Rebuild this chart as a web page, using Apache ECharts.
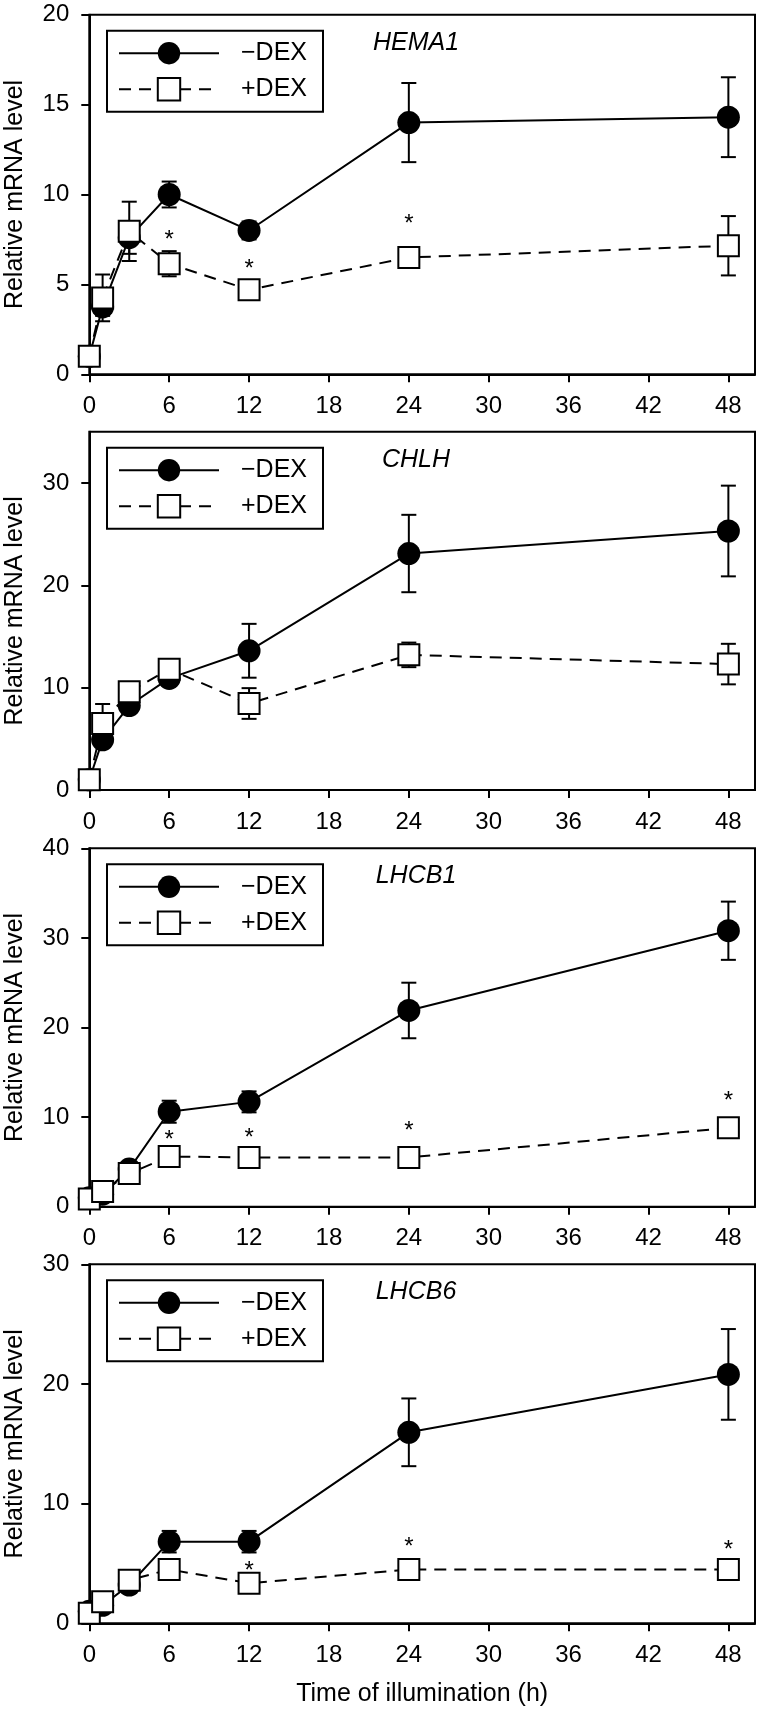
<!DOCTYPE html>
<html><head><meta charset="utf-8">
<script src="https://cdn.jsdelivr.net/npm/echarts@6/dist/echarts.min.js"></script>
<style>html,body{margin:0;padding:0;background:#fff}#c{width:760px;height:1714px}</style>
</head><body><div id="c"></div>
<script>
// ---- data ----
const times = [0, 1, 3, 6, 12, 24, 48];
const xTickValues = [0, 6, 12, 18, 24, 30, 36, 42, 48];
const seriesNames = ['\u2212DEX', '+DEX'];
const genes = ['HEMA1', 'CHLH', 'LHCB1', 'LHCB6'];

const hema1Minus    = [1.0, 3.75, 7.6, 10.0, 8.0, 14.0, 14.3];
const hema1MinusErr = [0.1, 0.5, 0.9, 0.72, 0.5, 2.2, 2.22];
const hema1Plus     = [1.0, 4.25, 7.95, 6.15, 4.7, 6.5, 7.15];
const hema1PlusErr  = [0.1, 1.3, 1.65, 0.7, 0.3, 0.3, 1.65];
const hema1StarX    = [6, 12, 24];
const hema1StarY    = [7.7, 6.1, 8.6];

const chlhMinus     = [1.0, 4.9, 8.25, 10.9, 13.6, 23.1, 25.3];
const chlhMinusErr  = [0.2, 0.5, 0.4, 0.5, 2.63, 3.78, 4.43];
const chlhPlus      = [1.0, 6.5, 9.6, 11.8, 8.45, 13.2, 12.3];
const chlhPlusErr   = [0.2, 1.9, 0.5, 0.9, 1.5, 1.2, 1.98];
const chlhStarX     = [];
const chlhStarY     = [];

const lhcb1Minus    = [1.0, 1.4, 4.2, 10.6, 11.7, 21.9, 30.8];
const lhcb1MinusErr = [0.1, 0.3, 0.4, 1.23, 1.17, 3.1, 3.25];
const lhcb1Plus     = [0.85, 1.7, 3.7, 5.6, 5.5, 5.5, 8.8];
const lhcb1PlusErr  = [0.1, 0.3, 0.4, 0.4, 0.4, 0.4, 0.5];
const lhcb1StarX    = [6, 12, 24, 48];
const lhcb1StarY    = [8.0, 8.2, 9.0, 12.35];

const lhcb6Minus    = [1.0, 1.5, 3.2, 6.82, 6.82, 15.96, 20.8];
const lhcb6MinusErr = [0.1, 0.3, 0.3, 0.9, 0.9, 2.83, 3.79];
const lhcb6Plus     = [0.85, 1.8, 3.6, 4.5, 3.35, 4.5, 4.5];
const lhcb6PlusErr  = [0.1, 0.2, 0.3, 0.4, 0.3, 0.3, 0.3];
const lhcb6StarX    = [12, 24, 48];
const lhcb6StarY    = [4.73, 6.73, 6.54];

const yMaxes = [20, 35, 40, 30];
const yTicks1 = [0, 5, 10, 15, 20];
const yTicks2 = [0, 10, 20, 30];
const yTicks3 = [0, 10, 20, 30, 40];
const yTicks4 = [0, 10, 20, 30];

// ---- layout ----
const FONT = '"Liberation Sans", Arial, sans-serif';
const tops = [14.7, 431.7, 848.3, 1264.3];
const heights = [359.6, 358.3, 358.4, 359];
const panels = [
  {minus: hema1Minus, minusErr: hema1MinusErr, plus: hema1Plus, plusErr: hema1PlusErr, sx: hema1StarX, sy: hema1StarY, ticks: yTicks1},
  {minus: chlhMinus, minusErr: chlhMinusErr, plus: chlhPlus, plusErr: chlhPlusErr, sx: chlhStarX, sy: chlhStarY, ticks: yTicks2},
  {minus: lhcb1Minus, minusErr: lhcb1MinusErr, plus: lhcb1Plus, plusErr: lhcb1PlusErr, sx: lhcb1StarX, sy: lhcb1StarY, ticks: yTicks3},
  {minus: lhcb6Minus, minusErr: lhcb6MinusErr, plus: lhcb6Plus, plusErr: lhcb6PlusErr, sx: lhcb6StarX, sy: lhcb6StarY, ticks: yTicks4}
];

function errRender(params, api) {
  const x = api.value(0), y = api.value(1), e = api.value(2);
  const p1 = api.coord([x, y + e]), p2 = api.coord([x, y - e]);
  const w = 7.5;
  const st = {stroke: '#000', lineWidth: 2};
  return {type: 'group', children: [
    {type: 'line', shape: {x1: p1[0], y1: p1[1], x2: p2[0], y2: p2[1]}, style: st},
    {type: 'line', shape: {x1: p1[0] - w, y1: p1[1], x2: p1[0] + w, y2: p1[1]}, style: st},
    {type: 'line', shape: {x1: p2[0] - w, y1: p2[1], x2: p2[0] + w, y2: p2[1]}, style: st}
  ]};
}
function starRender(params, api) {
  const p = api.coord([api.value(0), api.value(1)]);
  return {type: 'text', x: p[0], y: p[1] + 5, style: {text: '*', font: '24px ' + FONT, textAlign: 'center', textVerticalAlign: 'middle', fill: '#000'}};
}

const grid = [], xAxis = [], yAxis = [], series = [], legend = [], graphic = [];
panels.forEach((p, i) => {
  grid.push({left: 89.3, right: 5, top: tops[i], height: heights[i], show: true, borderColor: '#000', borderWidth: 2,
    backgroundColor: 'transparent', containLabel: false, outerBoundsMode: 'none'});
  xAxis.push({
    type: 'value', gridIndex: i, min: 0, max: 50,
    axisLine: {onZero: false, lineStyle: {color: '#000', width: 2}},
    axisTick: {show: true, length: 8, lineStyle: {color: '#000', width: 2}, customValues: xTickValues},
    axisLabel: {customValues: xTickValues, color: '#000', fontSize: 24, fontFamily: FONT, margin: 20},
    splitLine: {show: false},
    name: i === 3 ? 'Time of illumination (h)' : '',
    nameLocation: 'middle', nameGap: 58,
    nameTextStyle: {color: '#000', fontSize: 25, fontFamily: FONT}
  });
  yAxis.push({
    type: 'value', gridIndex: i, min: 0, max: yMaxes[i],
    axisLine: {onZero: false, lineStyle: {color: '#000', width: 2}},
    axisTick: {show: true, length: 8, lineStyle: {color: '#000', width: 2}, customValues: p.ticks},
    axisLabel: {customValues: p.ticks, color: '#000', fontSize: 24, fontFamily: FONT, margin: 20},
    splitLine: {show: false},
    name: 'Relative mRNA level', nameLocation: 'middle', nameGap: 62,
    nameTextStyle: {color: '#000', fontSize: 25, fontFamily: FONT}
  });
  series.push({
    type: 'custom', name: 'errMinus' + i, xAxisIndex: i, yAxisIndex: i, z: 1,
    renderItem: errRender, data: times.map((t, k) => [t, p.minus[k], p.minusErr[k]])
  });
  series.push({
    type: 'custom', name: 'errPlus' + i, xAxisIndex: i, yAxisIndex: i, z: 1,
    renderItem: errRender, data: times.map((t, k) => [t, p.plus[k], p.plusErr[k]])
  });
  series.push({
    type: 'line', name: seriesNames[0], xAxisIndex: i, yAxisIndex: i, z: 2,
    data: times.map((t, k) => [t, p.minus[k]]),
    symbol: 'circle', symbolSize: 23, showAllSymbol: true,
    itemStyle: {color: '#000'}, lineStyle: {color: '#000', width: 2},
    animation: false, clip: false
  });
  series.push({
    type: 'line', name: seriesNames[1], xAxisIndex: i, yAxisIndex: i, z: 3,
    data: times.map((t, k) => [t, p.plus[k]]),
    symbol: 'rect', symbolSize: 21, showAllSymbol: true,
    itemStyle: {color: '#fff', borderColor: '#000', borderWidth: 2},
    lineStyle: {color: '#000', width: 2, type: [12, 8]},
    animation: false, clip: false
  });
  series.push({
    type: 'custom', name: 'stars' + i, xAxisIndex: i, yAxisIndex: i, z: 4,
    renderItem: starRender, data: p.sx.map((x, k) => [x, p.sy[k]])
  });
  legend.push({
    orient: 'vertical', left: 107, top: tops[i] + 16, data: seriesNames,
    itemWidth: 100, itemHeight: 28, itemGap: 11,
    borderColor: '#000', borderWidth: 2, borderRadius: 0, padding: [10, 16, 10, 11],
    selectedMode: false,
    textStyle: {fontSize: 25, fontFamily: FONT, color: '#000', padding: [0, 0, 0, 17]}
  });
  graphic.push({
    type: 'text', x: 416, y: tops[i] + 28,
    style: {text: genes[i], font: 'italic 25px ' + FONT, textAlign: 'center', textVerticalAlign: 'middle', fill: '#000'}
  });
});

const chart = echarts.init(document.getElementById('c'), null, {renderer: 'canvas'});
chart.setOption({
  backgroundColor: '#fff', animation: false,
  grid, xAxis, yAxis, series, legend, graphic
});
</script></body></html>
